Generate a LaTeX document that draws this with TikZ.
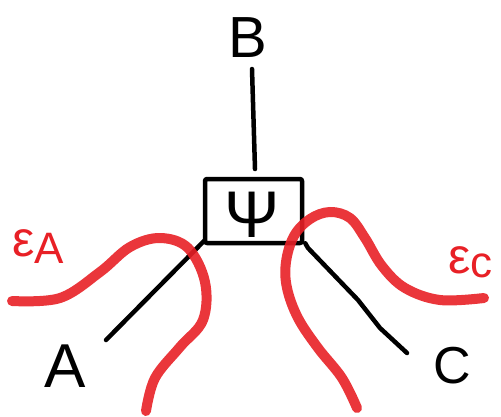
\documentclass[tikz,border=0pt]{standalone}
\usepackage{fontspec}
\setmainfont{Liberation Sans}
\definecolor{pen}{RGB}{232,32,38}
\begin{document}
\begin{tikzpicture}[x=1pt,y=-1pt,
  ink/.style={line width=4.5pt,line cap=round,line join=round,black},
  rope/.style={line width=10pt,line cap=round,pen,opacity=0.9},
  letter/.style={font=\fontsize{58}{58}\selectfont,inner sep=0pt},
  elabel/.style={text=pen,inner sep=0pt,font=\fontsize{50}{50}\selectfont}]
\useasboundingbox (0,0) rectangle (501,416);
% nodes
\node[letter] (B) at (248,38) {B};
\node[letter,font=\fontsize{62}{62}\selectfont] (A) at (65,366) {A};
\node[letter,font=\fontsize{52}{52}\selectfont] (C) at (452,366) {C};
\node[draw,ink,minimum width=97pt,minimum height=64pt,rounded corners=2pt,inner sep=0pt] (psi) at (253.5,211) {};
\node[inner sep=0pt,font=\fontsize{66}{66}\selectfont] (psiT) at (252,215) {Ψ};
\node[elabel,anchor=west] (eA) at (12,247) {ε\raisebox{-7pt}{\fontsize{44}{44}\selectfont A}};
\node[elabel,anchor=west] (eC) at (448,262) {ε\raisebox{-4pt}{\fontsize{44}{44}\selectfont c}};
% connectors
\coordinate (Btop) at (252,69);
\coordinate (Bbot) at (255,169);
\draw[ink] (Btop) -- (Bbot);
\draw[ink] (psi.south west) ++(2,-5) coordinate (aS) -- (106,340) coordinate (aE);
\draw[ink] (psi.south east) ++(1,-2) coordinate (cS) -- (308,248) -- (358,300) -- (380,328) -- (407,353) coordinate (cE);
% red curves
\draw[rope] plot[smooth,tension=0.6] coordinates {(12,301) (60,298) (100,272) (130,247) (160,238) (188,248) (205,282) (203,320) (180,347) (155,378) (146,411)};
\draw[rope] plot[smooth,tension=0.6] coordinates {(357,408) (342,378) (318,348) (298,318) (287,288) (286,262) (294,236) (310,219) (330,212) (350,218) (365,238) (382,266) (405,288) (440,300) (484,298)};
\end{tikzpicture}
\end{document}
